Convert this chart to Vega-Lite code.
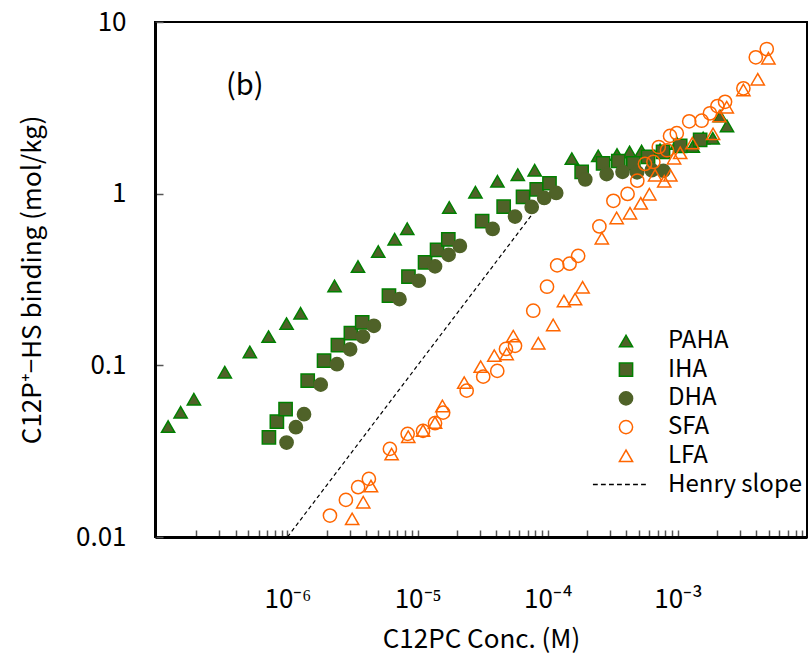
{
  "$schema": "https://vega.github.io/schema/vega-lite/v6.json",
  "width": 652,
  "height": 515,
  "autosize": {"type": "none"},
  "padding": {"left": 155, "top": 22, "right": 3, "bottom": 122},
  "config": {
    "font": "Noto Sans CJK JP",
    "view": {"stroke": "black", "strokeWidth": 2},
    "axis": {"grid": false, "domainColor": "black", "domainWidth": 3, "labelColor": "black", "titleColor": "black", "labelFont": "Noto Sans CJK JP", "titleFont": "Noto Sans CJK JP", "titleFontWeight": "normal", "tickColor": "#555555", "tickWidth": 1.5}
  },
  "layer": [
    {
      "data": {"values": [
        {"series": "PAHA", "c": 1.21e-7, "q": 0.0440},
        {"series": "PAHA", "c": 1.51e-7, "q": 0.0533},
        {"series": "PAHA", "c": 1.91e-7, "q": 0.0635},
        {"series": "PAHA", "c": 3.30e-7, "q": 0.0912},
        {"series": "PAHA", "c": 5.14e-7, "q": 0.1197},
        {"series": "PAHA", "c": 7.16e-7, "q": 0.147},
        {"series": "PAHA", "c": 9.84e-7, "q": 0.175},
        {"series": "PAHA", "c": 1.26e-6, "q": 0.201},
        {"series": "PAHA", "c": 2.30e-6, "q": 0.290},
        {"series": "PAHA", "c": 3.48e-6, "q": 0.376},
        {"series": "PAHA", "c": 4.98e-6, "q": 0.460},
        {"series": "PAHA", "c": 6.66e-6, "q": 0.543},
        {"series": "PAHA", "c": 8.32e-6, "q": 0.625},
        {"series": "PAHA", "c": 1.75e-5, "q": 0.831},
        {"series": "PAHA", "c": 2.78e-5, "q": 1.02},
        {"series": "PAHA", "c": 4.10e-5, "q": 1.18},
        {"series": "PAHA", "c": 5.88e-5, "q": 1.29},
        {"series": "PAHA", "c": 7.93e-5, "q": 1.37},
        {"series": "PAHA", "c": 1.53e-4, "q": 1.60},
        {"series": "PAHA", "c": 2.44e-4, "q": 1.66},
        {"series": "PAHA", "c": 3.40e-4, "q": 1.69},
        {"series": "PAHA", "c": 4.25e-4, "q": 1.75},
        {"series": "PAHA", "c": 5.25e-4, "q": 1.77},
        {"series": "PAHA", "c": 7.28e-4, "q": 1.80},
        {"series": "PAHA", "c": 9.84e-4, "q": 1.96},
        {"series": "PAHA", "c": 1.30e-3, "q": 1.88},
        {"series": "PAHA", "c": 1.56e-3, "q": 2.11},
        {"series": "PAHA", "c": 1.85e-3, "q": 2.10},
        {"series": "PAHA", "c": 2.11e-3, "q": 2.83},
        {"series": "PAHA", "c": 2.38e-3, "q": 2.48},
        {"series": "IHA", "c": 7.20e-7, "q": 0.0381},
        {"series": "IHA", "c": 8.29e-7, "q": 0.0470},
        {"series": "IHA", "c": 9.67e-7, "q": 0.0555},
        {"series": "IHA", "c": 1.43e-6, "q": 0.0815},
        {"series": "IHA", "c": 1.91e-6, "q": 0.1065},
        {"series": "IHA", "c": 2.44e-6, "q": 0.131},
        {"series": "IHA", "c": 3.07e-6, "q": 0.154},
        {"series": "IHA", "c": 3.75e-6, "q": 0.178},
        {"series": "IHA", "c": 6.02e-6, "q": 0.255},
        {"series": "IHA", "c": 8.50e-6, "q": 0.329},
        {"series": "IHA", "c": 1.14e-5, "q": 0.398},
        {"series": "IHA", "c": 1.41e-5, "q": 0.470},
        {"series": "IHA", "c": 1.72e-5, "q": 0.541},
        {"series": "IHA", "c": 3.13e-5, "q": 0.691},
        {"series": "IHA", "c": 4.58e-5, "q": 0.840},
        {"series": "IHA", "c": 6.45e-5, "q": 0.957},
        {"series": "IHA", "c": 8.22e-5, "q": 1.06},
        {"series": "IHA", "c": 1.03e-4, "q": 1.15},
        {"series": "IHA", "c": 1.82e-4, "q": 1.34},
        {"series": "IHA", "c": 2.66e-4, "q": 1.50},
        {"series": "IHA", "c": 3.48e-4, "q": 1.55},
        {"series": "IHA", "c": 4.54e-4, "q": 1.50},
        {"series": "IHA", "c": 5.89e-4, "q": 1.64},
        {"series": "IHA", "c": 7.68e-4, "q": 1.75},
        {"series": "IHA", "c": 1.04e-3, "q": 1.90},
        {"series": "IHA", "c": 1.48e-3, "q": 2.06},
        {"series": "DHA", "c": 9.84e-7, "q": 0.0355},
        {"series": "DHA", "c": 1.16e-6, "q": 0.0436},
        {"series": "DHA", "c": 1.34e-6, "q": 0.0519},
        {"series": "DHA", "c": 1.80e-6, "q": 0.0772},
        {"series": "DHA", "c": 2.40e-6, "q": 0.1015},
        {"series": "DHA", "c": 3.03e-6, "q": 0.124},
        {"series": "DHA", "c": 3.80e-6, "q": 0.147},
        {"series": "DHA", "c": 4.61e-6, "q": 0.170},
        {"series": "DHA", "c": 7.25e-6, "q": 0.243},
        {"series": "DHA", "c": 1.02e-5, "q": 0.311},
        {"series": "DHA", "c": 1.36e-5, "q": 0.377},
        {"series": "DHA", "c": 1.73e-5, "q": 0.440},
        {"series": "DHA", "c": 2.11e-5, "q": 0.496},
        {"series": "DHA", "c": 3.77e-5, "q": 0.623},
        {"series": "DHA", "c": 5.60e-5, "q": 0.735},
        {"series": "DHA", "c": 7.52e-5, "q": 0.837},
        {"series": "DHA", "c": 9.38e-5, "q": 0.944},
        {"series": "DHA", "c": 1.16e-4, "q": 1.01},
        {"series": "DHA", "c": 1.94e-4, "q": 1.21},
        {"series": "DHA", "c": 2.83e-4, "q": 1.30},
        {"series": "DHA", "c": 3.75e-4, "q": 1.34},
        {"series": "DHA", "c": 4.85e-4, "q": 1.33},
        {"series": "DHA", "c": 6.29e-4, "q": 1.37},
        {"series": "DHA", "c": 7.72e-4, "q": 1.36},
        {"series": "SFA", "c": 2.12e-6, "q": 0.01333},
        {"series": "SFA", "c": 2.81e-6, "q": 0.01645},
        {"series": "SFA", "c": 3.49e-6, "q": 0.0195},
        {"series": "SFA", "c": 4.22e-6, "q": 0.0218},
        {"series": "SFA", "c": 6.12e-6, "q": 0.0326},
        {"series": "SFA", "c": 8.38e-6, "q": 0.0399},
        {"series": "SFA", "c": 1.10e-5, "q": 0.0415},
        {"series": "SFA", "c": 1.36e-5, "q": 0.0460},
        {"series": "SFA", "c": 1.57e-5, "q": 0.0530},
        {"series": "SFA", "c": 2.38e-5, "q": 0.0712},
        {"series": "SFA", "c": 3.19e-5, "q": 0.0859},
        {"series": "SFA", "c": 4.09e-5, "q": 0.0928},
        {"series": "SFA", "c": 4.77e-5, "q": 0.1246},
        {"series": "SFA", "c": 5.60e-5, "q": 0.130},
        {"series": "SFA", "c": 7.73e-5, "q": 0.208},
        {"series": "SFA", "c": 9.86e-5, "q": 0.287},
        {"series": "SFA", "c": 1.18e-4, "q": 0.382},
        {"series": "SFA", "c": 1.47e-4, "q": 0.391},
        {"series": "SFA", "c": 1.71e-4, "q": 0.434},
        {"series": "SFA", "c": 2.49e-4, "q": 0.644},
        {"series": "SFA", "c": 3.19e-4, "q": 0.909},
        {"series": "SFA", "c": 4.10e-4, "q": 0.996},
        {"series": "SFA", "c": 4.87e-4, "q": 1.19},
        {"series": "SFA", "c": 5.58e-4, "q": 1.49},
        {"series": "SFA", "c": 6.47e-4, "q": 1.53},
        {"series": "SFA", "c": 7.12e-4, "q": 1.87},
        {"series": "SFA", "c": 8.24e-4, "q": 1.79},
        {"series": "SFA", "c": 8.69e-4, "q": 2.17},
        {"series": "SFA", "c": 9.79e-4, "q": 2.25},
        {"series": "SFA", "c": 1.22e-3, "q": 2.64},
        {"series": "SFA", "c": 1.52e-3, "q": 2.66},
        {"series": "SFA", "c": 1.76e-3, "q": 2.94},
        {"series": "SFA", "c": 2.01e-3, "q": 3.24},
        {"series": "SFA", "c": 2.30e-3, "q": 3.43},
        {"series": "SFA", "c": 3.18e-3, "q": 4.11},
        {"series": "SFA", "c": 3.96e-3, "q": 6.23},
        {"series": "SFA", "c": 4.81e-3, "q": 6.96},
        {"series": "LFA", "c": 3.14e-6, "q": 0.01275},
        {"series": "LFA", "c": 3.82e-6, "q": 0.01595},
        {"series": "LFA", "c": 4.38e-6, "q": 0.0198},
        {"series": "LFA", "c": 6.31e-6, "q": 0.0304},
        {"series": "LFA", "c": 8.47e-6, "q": 0.0384},
        {"series": "LFA", "c": 1.10e-5, "q": 0.0417},
        {"series": "LFA", "c": 1.36e-5, "q": 0.0464},
        {"series": "LFA", "c": 1.55e-5, "q": 0.0580},
        {"series": "LFA", "c": 2.28e-5, "q": 0.0793},
        {"series": "LFA", "c": 3.05e-5, "q": 0.0983},
        {"series": "LFA", "c": 3.88e-5, "q": 0.1139},
        {"series": "LFA", "c": 4.83e-5, "q": 0.1165},
        {"series": "LFA", "c": 5.43e-5, "q": 0.148},
        {"series": "LFA", "c": 8.45e-5, "q": 0.1345},
        {"series": "LFA", "c": 1.10e-4, "q": 0.172},
        {"series": "LFA", "c": 1.33e-4, "q": 0.237},
        {"series": "LFA", "c": 1.62e-4, "q": 0.243},
        {"series": "LFA", "c": 1.85e-4, "q": 0.285},
        {"series": "LFA", "c": 2.60e-4, "q": 0.550},
        {"series": "LFA", "c": 3.38e-4, "q": 0.722},
        {"series": "LFA", "c": 4.28e-4, "q": 0.769},
        {"series": "LFA", "c": 5.18e-4, "q": 0.879},
        {"series": "LFA", "c": 6.03e-4, "q": 0.993},
        {"series": "LFA", "c": 6.67e-4, "q": 1.28},
        {"series": "LFA", "c": 7.84e-4, "q": 1.18},
        {"series": "LFA", "c": 8.74e-4, "q": 1.28},
        {"series": "LFA", "c": 9.33e-4, "q": 1.61},
        {"series": "LFA", "c": 1.04e-3, "q": 1.73},
        {"series": "LFA", "c": 1.29e-3, "q": 1.97},
        {"series": "LFA", "c": 1.86e-3, "q": 2.23},
        {"series": "LFA", "c": 2.08e-3, "q": 2.83},
        {"series": "LFA", "c": 2.37e-3, "q": 3.19},
        {"series": "LFA", "c": 3.18e-3, "q": 4.02},
        {"series": "LFA", "c": 4.10e-3, "q": 4.64},
        {"series": "LFA", "c": 4.95e-3, "q": 6.15}
      ]},
      "mark": {"type": "point", "filled": true, "opacity": 1, "size": 175, "strokeWidth": 1.5},
      "encoding": {
        "x": {
          "field": "c", "type": "quantitative",
          "scale": {"type": "log", "domain": [9.6e-8, 9.8e-3], "nice": false},
          "axis": {
            "title": "C12PC Conc. (M)", "titleFontSize": 26, "titleY": 102, "titleBaseline": "middle",
            "values": [2e-7,3e-7,4e-7,5e-7,6e-7,7e-7,8e-7,9e-7,1e-6,2e-6,3e-6,4e-6,5e-6,6e-6,7e-6,8e-6,9e-6,1e-5,2e-5,3e-5,4e-5,5e-5,6e-5,7e-5,8e-5,9e-5,1e-4,2e-4,3e-4,4e-4,5e-4,6e-4,7e-4,8e-4,9e-4,1e-3,2e-3,3e-3,4e-3,5e-3,6e-3,7e-3,8e-3,9e-3],
            "labelExpr": "abs(log(datum.value)/LN10 - round(log(datum.value)/LN10)) < 0.001 ? (round(log(datum.value)/LN10) == -6 ? '10⁻⁶' : round(log(datum.value)/LN10) == -5 ? '10⁻⁵' : round(log(datum.value)/LN10) == -4 ? '10⁻⁴' : '10⁻³') : ''",
            "labelFontSize": 26, "labelPadding": 56, "tickSize": -7, "labelOverlap": false, "labelFlush": false
          }
        },
        "y": {
          "field": "q", "type": "quantitative",
          "scale": {"type": "log", "domain": [0.01, 10], "nice": false},
          "axis": {
            "title": "C12P⁺−HS binding (mol/kg)", "titleFontSize": 26, "titleX": -123, "titleBaseline": "middle",
            "values": [0.01, 0.1, 1, 10], "format": "~g",
            "labelFontSize": 26, "labelPadding": 37, "tickSize": -8, "labelFlush": false, "labelOverlap": false
          }
        },
        "shape": {
          "field": "series", "type": "nominal",
          "scale": {"domain": ["PAHA", "IHA", "DHA", "SFA", "LFA", "Henry slope"],
                    "range": ["triangle-up", "square", "circle", "circle", "triangle-up", "M-5.0,0L-4.27,0M-3.79,0L-3.06,0M-2.57,0L-1.84,0M-1.36,0L-0.63,0M-0.15,0L0.58,0M1.07,0L1.8,0M2.28,0L3.0,0"]},
          "legend": {"title": null, "orient": "none", "legendX": 459, "legendY": 307, "symbolSize": 175, "labelFontSize": 24, "labelFont": "Noto Sans CJK JP", "labelColor": "black", "labelOffset": 30, "rowPadding": 4.7, "padding": 0, "symbolStrokeWidth": 1.5, "labelLimit": 0}
        },
        "fill": {
          "field": "series", "type": "nominal",
          "scale": {"domain": ["PAHA", "IHA", "DHA", "SFA", "LFA", "Henry slope"],
                    "range": ["#4F6228", "#4F6228", "#4F6228", "transparent", "transparent", "transparent"]},
          "legend": {"title": null, "orient": "none", "legendX": 459, "legendY": 307, "symbolSize": 175, "labelFontSize": 24, "labelFont": "Noto Sans CJK JP", "labelColor": "black", "labelOffset": 30, "rowPadding": 4.7, "padding": 0, "symbolStrokeWidth": 1.5, "labelLimit": 0}
        },
        "stroke": {
          "field": "series", "type": "nominal",
          "scale": {"domain": ["PAHA", "IHA", "DHA", "SFA", "LFA", "Henry slope"],
                    "range": ["#008000", "#008000", "#4F6228", "#FF6600", "#FF6600", "black"]},
          "legend": {"title": null, "orient": "none", "legendX": 459, "legendY": 307, "symbolSize": 175, "labelFontSize": 24, "labelFont": "Noto Sans CJK JP", "labelColor": "black", "labelOffset": 30, "rowPadding": 4.7, "padding": 0, "symbolStrokeWidth": 1.5, "labelLimit": 0}
        }
      }
    },
    {
      "data": {"values": [
        {"c": 1e-6, "q": 0.01},
        {"c": 7.52e-5, "q": 0.752}
      ]},
      "mark": {"type": "line", "color": "black", "strokeWidth": 1.2, "strokeDash": [4, 3]},
      "encoding": {
        "x": {"field": "c", "type": "quantitative"},
        "y": {"field": "q", "type": "quantitative"}
      }
    },
    {
      "data": {"values": [{"label": "(b)", "c": 4.69e-7, "q": 4.21}]},
      "mark": {"type": "text", "fontSize": 29, "font": "Noto Sans CJK JP", "color": "black", "align": "center", "baseline": "middle"},
      "encoding": {
        "x": {"field": "c", "type": "quantitative"},
        "y": {"field": "q", "type": "quantitative"},
        "text": {"field": "label"}
      }
    }
  ]
}
